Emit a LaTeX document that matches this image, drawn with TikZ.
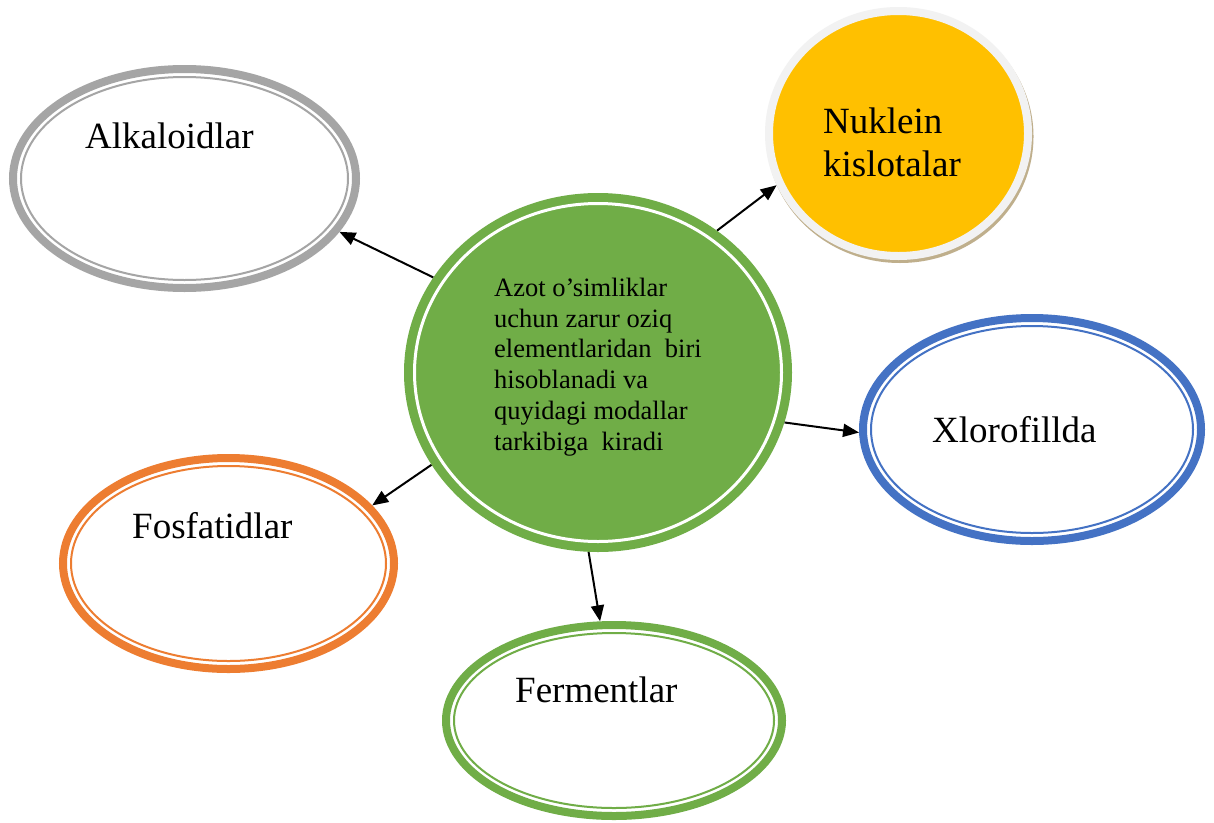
\documentclass[tikz,border=0pt]{standalone}
\usepackage{fontspec}
\setmainfont{Liberation Serif}
\usetikzlibrary{shapes.geometric,arrows.meta,shadows}
\definecolor{cgray}{HTML}{A5A5A5}
\definecolor{cblue}{HTML}{4472C4}
\definecolor{corange}{HTML}{ED7D31}
\definecolor{cgreen}{HTML}{70AD47}
\definecolor{cyellow}{HTML}{FFC000}
\definecolor{cring}{HTML}{F2F2F2}
\definecolor{ctan}{HTML}{BFAF8C}
\tikzset{
  ovalbox/.style n args={3}{ellipse, inner sep=0pt, draw=#1, line width=8pt, fill=white,
    path picture={\draw[#1, line width=2pt] (path picture bounding box.center) ellipse [x radius=#2pt, y radius=#3pt];}},
  bigtext/.style={inner sep=0pt, font=\fontsize{37}{43}\selectfont, align=left},
  smalltext/.style={inner sep=0pt, font=\fontsize{26.5}{30.7}\selectfont, align=left},
  arr/.style={line width=2pt, -{Triangle[length=16pt, width=13pt]}}
}
\begin{document}
\begin{tikzpicture}[x=1pt, y=-1pt]
\fill[white] (0,0) rectangle (1214,822);
\useasboundingbox (0,0) rectangle (1214,822);

% centre
\node[ellipse, inner sep=0pt, fill=cgreen, minimum width=388pt, minimum height=359pt,
  path picture={\draw[white, line width=3pt] (path picture bounding box.center) ellipse [x radius=183.5pt, y radius=169pt];}]
  (ctr) at (598,372.5) {};
\node[smalltext, anchor=north west] (ctrtxt) at (494,278)
  {Azot o’simliklar\\uchun zarur oziq\\elementlaridan\ \ biri\\hisoblanadi va\\quyidagi modallar\\tarkibiga\ \ kiradi};

% satellites
\node[ovalbox={cgray}{163.5}{101.5}, minimum width=343pt, minimum height=219pt] (alk) at (184.5,178.5) {};
\node[bigtext, anchor=base west] (alktxt) at (85,148) {Alkaloidlar};

\node[ellipse, inner sep=0pt, fill=cyellow, draw=cring, line width=8pt,
  minimum width=259pt, minimum height=245pt,
  general shadow={draw=ctan, line width=8pt, shadow xshift=1.5pt, shadow yshift=-3pt}] (nuk) at (898.5,133.5) {};
\node[bigtext, anchor=north west] (nuktxt) at (823,107.7) {Nuklein\\kislotalar};

\node[ovalbox={cblue}{161}{103.5}, minimum width=338pt, minimum height=223pt] (xlo) at (1032,429.5) {};
\node[bigtext, anchor=base west] (xlotxt) at (932,442) {Xlorofillda};

\node[ovalbox={corange}{157.5}{97.5}, minimum width=331pt, minimum height=211pt] (fos) at (228.5,563.5) {};
\node[bigtext, anchor=base west] (fostxt) at (132,538) {Fosfatidlar};

\node[ovalbox={cgreen}{160}{87.5}, minimum width=336pt, minimum height=191pt] (fer) at (614,720.5) {};
\node[bigtext, anchor=base west] (fertxt) at (515,702) {Fermentlar};

% connectors
\draw[arr] (ctr.150.6) -- (alk.-19.2);
\draw[arr] (ctr.50.6) -- (nuk.203.3);
\draw[arr] (ctr.-15.2) -- (xlo.181);
\draw[arr] (ctr.209.7) -- (fos.22.8);
\draw[arr] (ctr.267.4) -- (fer.98.4);
\end{tikzpicture}
\end{document}
